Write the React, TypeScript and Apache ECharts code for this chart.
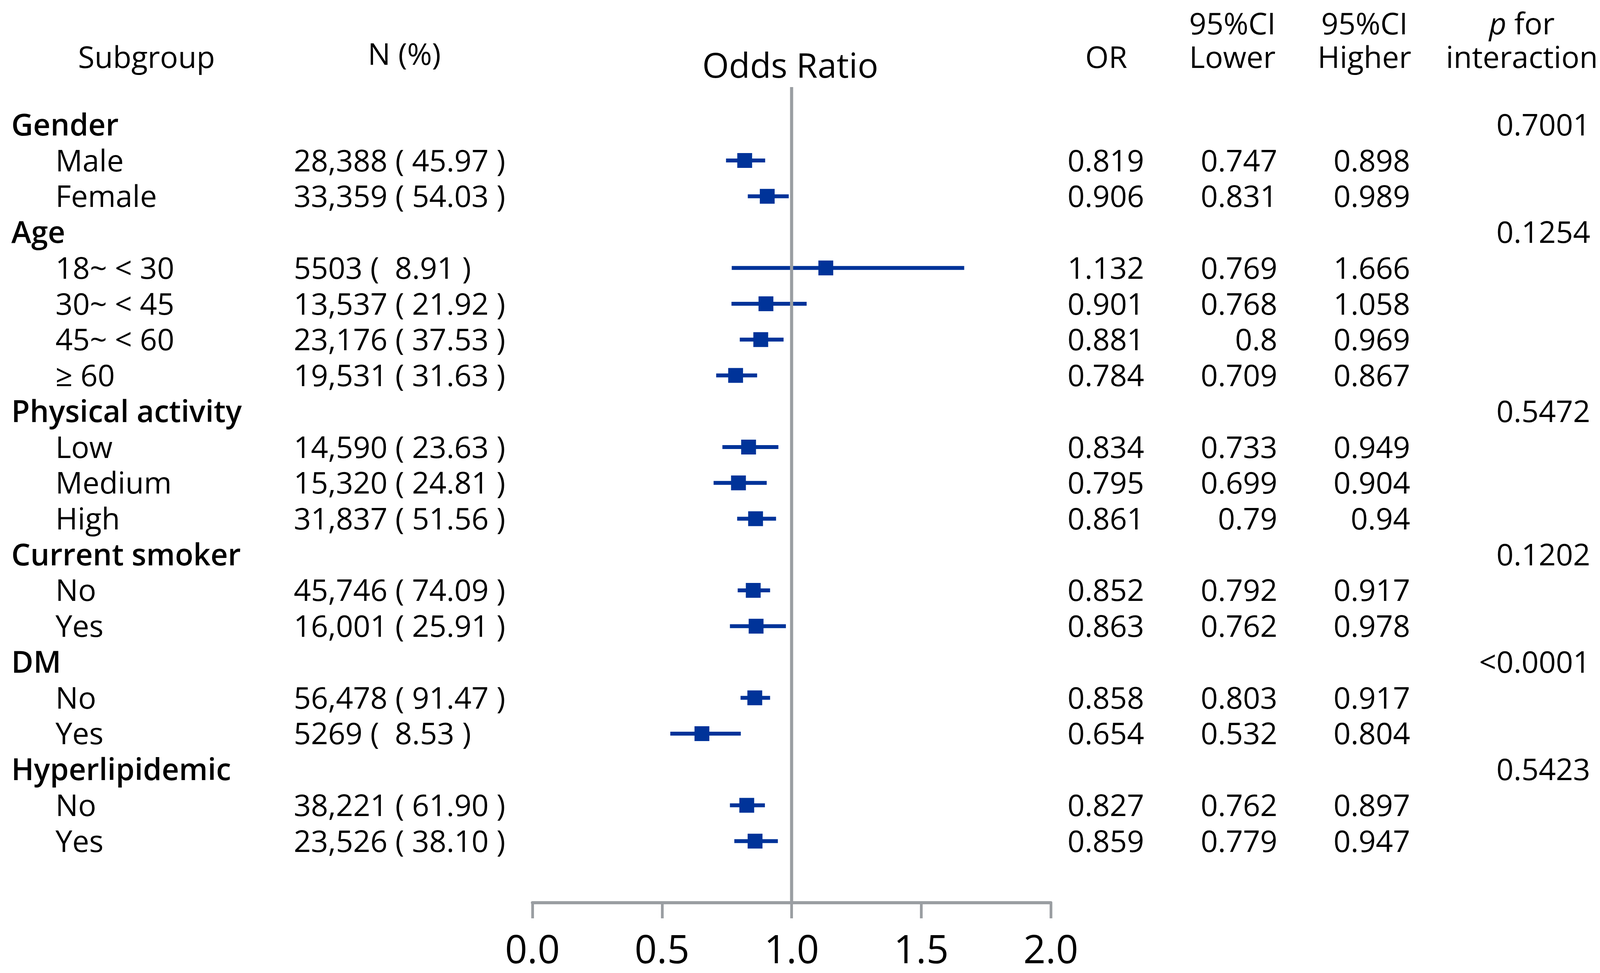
import React, { useEffect, useRef } from "react";
import * as echarts from "echarts";

// ---- data ----
const subgroupLabels = [
  "Gender", "Male", "Female",
  "Age", "18~ < 30", "30~ < 45", "45~ < 60", "≥ 60",
  "Physical activity", "Low", "Medium", "High",
  "Current smoker", "No", "Yes",
  "DM", "No", "Yes",
  "Hyperlipidemic", "No", "Yes",
];
const isGroupRow = [
  true, false, false,
  true, false, false, false, false,
  true, false, false, false,
  true, false, false,
  true, false, false,
  true, false, false,
];
const counts: (number | null)[] = [
  null, 28388, 33359,
  null, 5503, 13537, 23176, 19531,
  null, 14590, 15320, 31837,
  null, 45746, 16001,
  null, 56478, 5269,
  null, 38221, 23526,
];
const percents: (string | null)[] = [
  null, "45.97", "54.03",
  null, "8.91", "21.92", "37.53", "31.63",
  null, "23.63", "24.81", "51.56",
  null, "74.09", "25.91",
  null, "91.47", "8.53",
  null, "61.90", "38.10",
];
const orValues: (number | null)[] = [
  null, 0.819, 0.906,
  null, 1.132, 0.901, 0.881, 0.784,
  null, 0.834, 0.795, 0.861,
  null, 0.852, 0.863,
  null, 0.858, 0.654,
  null, 0.827, 0.859,
];
const ciLower: (number | null)[] = [
  null, 0.747, 0.831,
  null, 0.769, 0.768, 0.8, 0.709,
  null, 0.733, 0.699, 0.79,
  null, 0.792, 0.762,
  null, 0.803, 0.532,
  null, 0.762, 0.779,
];
const ciUpper: (number | null)[] = [
  null, 0.898, 0.989,
  null, 1.666, 1.058, 0.969, 0.867,
  null, 0.949, 0.904, 0.94,
  null, 0.917, 0.978,
  null, 0.917, 0.804,
  null, 0.897, 0.947,
];
const pInteraction: (string | null)[] = [
  "0.7001", null, null,
  "0.1254", null, null, null, null,
  "0.5472", null, null, null,
  "0.1202", null, null,
  "<0.0001", null, null,
  "0.5423", null, null,
];
const xTicks = [0, 0.5, 1, 1.5, 2];

// ---- layout / style ----
const W = 4109;
const H = 2492;
const FONT = "Open Sans";
const TXT = 77;
const BLUE = "#003399";
const GRAY = "#9a9ea2";
const Y_MIN = -1.05;
const Y_MAX = 21.72;

const COL = {
  group: 29,
  item: 142,
  n: 752,
  or: 2929,
  lower: 3270,
  upper: 3610,
  p: 4071,
};

function fmtCount(n: number) {
  return n >= 10000 ? n.toLocaleString("en-US") : String(n);
}
function fmtPct(p: string) {
  return p.length < 5 ? " " + p : p;
}

export default function App() {
  const ref = useRef<HTMLDivElement>(null);
  useEffect(() => {
    if (!ref.current) return;
    const chart = echarts.init(ref.current, null, { renderer: "svg" });

    const ciData: any[] = [];
    orValues.forEach((v, i) => {
      if (v !== null) ciData.push([ciLower[i], ciUpper[i], v, i]);
    });
    const rowData = subgroupLabels.map((_, i) => [1, i]);

    const txt = (x: number, y: number, text: string, align: string, extra: any = {}) => ({
      type: "text",
      x,
      y,
      style: {
        text,
        fill: "#000",
        fontSize: TXT,
        fontFamily: FONT,
        align,
        verticalAlign: "middle",
        ...extra,
      },
    });

    const headerText = (x: number, y: number, text: string, size = TXT, extra: any = {}) => ({
      type: "text",
      x,
      y,
      style: {
        text,
        fill: "#000",
        fontSize: size,
        fontFamily: FONT,
        align: "center",
        verticalAlign: "middle",
        ...extra,
      },
    });

    const option: any = {
      animation: false,
      grid: { left: 1363, right: W - 2690, top: 223, bottom: H - 2312, containLabel: false },
      xAxis: {
        type: "value",
        position: "bottom",
        min: xTicks[0],
        max: xTicks[xTicks.length - 1],
        interval: 0.5,
        axisLine: { show: true, onZero: false, lineStyle: { color: GRAY, width: 8 } },
        axisTick: { show: true, length: 40, lineStyle: { color: GRAY, width: 7 } },
        axisLabel: {
          fontSize: 100,
          lineHeight: 100,
          fontFamily: FONT,
          color: "#000",
          margin: 66,
          formatter: (v: number) => v.toFixed(1),
        },
        splitLine: { show: false },
      },
      yAxis: {
        type: "value",
        min: Y_MIN,
        max: Y_MAX,
        inverse: true,
        show: false,
      },
      graphic: [
        headerText(375, 144, "Subgroup"),
        headerText(1035, 136, "N (%)"),
        headerText(2023, 165, "Odds Ratio", 88),
        headerText(2832, 144, "OR"),
        headerText(3155, 101, "95%CI\nLower", TXT, { lineHeight: 86 }),
        headerText(3493, 101, "95%CI\nHigher", TXT, { lineHeight: 86 }),
        headerText(3896, 101, "{i|p}{n| for}\n{n|interaction}", TXT, {
          lineHeight: 86,
          rich: {
            i: { fontStyle: "italic", fontSize: TXT, fontFamily: FONT, fill: "#000", lineHeight: 86 },
            n: { fontSize: TXT, fontFamily: FONT, fill: "#000", lineHeight: 86 },
          },
        }),
      ],
      series: [
        {
          type: "custom",
          clip: false,
          z: 2,
          data: ciData,
          renderItem: (params: any, api: any) => {
            const lo = api.coord([api.value(0), api.value(3)]);
            const hi = api.coord([api.value(1), api.value(3)]);
            const c = api.coord([api.value(2), api.value(3)]);
            const s = 38;
            return {
              type: "group",
              children: [
                {
                  type: "line",
                  shape: { x1: lo[0], y1: lo[1], x2: hi[0], y2: hi[1] },
                  style: { stroke: BLUE, lineWidth: 10 },
                },
                {
                  type: "rect",
                  shape: { x: c[0] - s / 2, y: c[1] - s / 2, width: s, height: s },
                  style: { fill: BLUE },
                },
              ],
            };
          },
        },
        {
          type: "line",
          z: 3,
          symbol: "none",
          data: [
            [1, Y_MIN],
            [1, Y_MAX],
          ],
          lineStyle: { color: GRAY, width: 8 },
          silent: true,
        },
        {
          type: "custom",
          clip: false,
          z: 4,
          data: rowData,
          renderItem: (params: any, api: any) => {
            const i = api.value(1);
            const y = api.coord([1, i])[1] - 2;
            const children: any[] = [];
            if (isGroupRow[i]) {
              children.push(txt(COL.group, y, subgroupLabels[i], "left", { fontWeight: 600 }));
            } else {
              children.push(txt(COL.item, y, subgroupLabels[i], "left"));
            }
            if (counts[i] !== null) {
              children.push(
                txt(COL.n, y, `${fmtCount(counts[i] as number)} ( ${fmtPct(percents[i] as string)} )`, "left")
              );
            }
            if (orValues[i] !== null) {
              children.push(txt(COL.or, y, String(orValues[i]), "right"));
              children.push(txt(COL.lower, y, String(ciLower[i]), "right"));
              children.push(txt(COL.upper, y, String(ciUpper[i]), "right"));
            }
            if (pInteraction[i] !== null) {
              children.push(txt(COL.p, y, pInteraction[i] as string, "right"));
            }
            return { type: "group", children };
          },
        },
      ],
    };
    chart.setOption(option);
    return () => chart.dispose();
  }, []);
  return (
    <div
      ref={ref}
      style={{ position: "fixed", left: 0, top: 0, width: W, height: H, background: "#fff" }}
    />
  );
}
